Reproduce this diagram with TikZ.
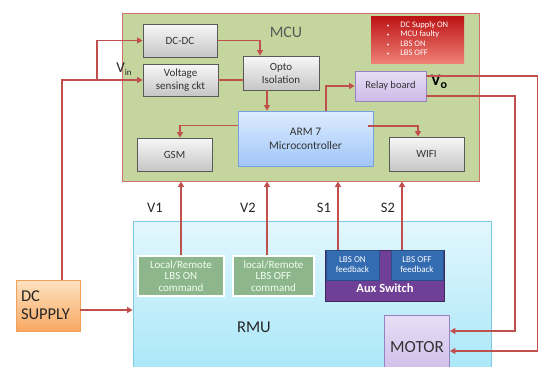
\documentclass[tikz,border=0pt]{standalone}
\usepackage{fontspec}
\setmainfont{Carlito}
\usetikzlibrary{arrows.meta,shadows}

\definecolor{linered}{RGB}{192,80,77}
\definecolor{mcugreen}{RGB}{196,214,158}
\definecolor{mcuborder}{RGB}{205,115,105}
\definecolor{cmdgreen}{RGB}{141,182,140}
\definecolor{fbblue}{RGB}{52,108,178}
\definecolor{auxpurple}{RGB}{112,64,150}

\begin{document}
\begin{tikzpicture}[x=1pt,y=-1pt,
  box/.style={draw, line width=0.8pt, inner sep=2pt, align=center,
    font=\fontsize{11}{13}\selectfont, text=black!80},
  graybox/.style={box, draw=black!65, top color=gray!6, bottom color=gray!45,
    drop shadow={opacity=0.25, shadow xshift=1.2pt, shadow yshift=-1.2pt}},
  bluebox/.style={box, draw={rgb,255:red,120;green,160;blue,220}, top color={rgb,255:red,222;green,236;blue,255},
    bottom color={rgb,255:red,160;green,198;blue,248}},
  lilacbox/.style={box, draw={rgb,255:red,150;green,130;blue,190},
    top color={rgb,255:red,232;green,222;blue,246}, bottom color={rgb,255:red,204;green,186;blue,232}},
  cmdbox/.style={box, draw=white, line width=1.5pt, fill=cmdgreen, text=white!94!green,
    font=\fontsize{11}{11.7}\selectfont},
  fbbox/.style={box, draw={rgb,255:red,40;green,78;blue,140}, fill=fbblue, text=white,
    font=\fontsize{9}{10}\selectfont},
  txt/.style={text=black!85, inner sep=0pt},
  siglabel/.style={txt, font=\fontsize{14.5}{17}\selectfont},
  conn/.style={draw=linered, line width=1.4pt},
  arr/.style={conn, -{Triangle[length=5.5pt,width=6pt]}}]

\useasboundingbox (0,0) rectangle (539,367);

% ---- MCU container ----
\node[draw=mcuborder, line width=0.8pt, fill=mcugreen, minimum width=357pt,
  minimum height=168pt] (mcu) at (300.5,97) {};
\node[txt, font=\fontsize{16}{19}\selectfont, text=black!65] (mcut) at (286,32) {MCU};

% status legend
\node[draw=none, top color={rgb,255:red,188;green,18;blue,20},
  bottom color={rgb,255:red,238;green,128;blue,118},
  minimum width=93pt, minimum height=47pt, text=white, align=left,
  font=\fontsize{8.5}{9.3}\selectfont] (legend) at (417.5,39.5)
  {\begin{tabular}{@{}l@{\hspace{11pt}}l@{}}
   \scalebox{0.6}{\textbullet} & DC Supply ON\\
   \scalebox{0.6}{\textbullet} & MCU faulty\\
   \scalebox{0.6}{\textbullet} & LBS ON\\
   \scalebox{0.6}{\textbullet} & LBS OFF
   \end{tabular}};

% MCU blocks
\node[graybox, minimum width=74pt, minimum height=33pt] (dcdc) at (180,40.5) {DC-DC};
\node[graybox, minimum width=75pt, minimum height=32pt] (vsense) at (180.5,80) {Voltage\\sensing ckt};
\node[graybox, minimum width=76pt, minimum height=34pt] (opto) at (281,73) {Opto\\Isolation};
\node[lilacbox, minimum width=71pt, minimum height=30pt, font=\fontsize{10.5}{12}\selectfont] (relay) at (390.5,86) {Relay board};
\node[bluebox, minimum width=135pt, minimum height=55pt, font=\fontsize{11.5}{14}\selectfont] (arm) at (305.5,138.5) {ARM 7\\Microcontroller};
\node[graybox, minimum width=75pt, minimum height=33pt] (gsm) at (174.5,154.5) {GSM};
\node[graybox, minimum width=75pt, minimum height=34pt] (wifi) at (426.5,154) {WIFI};

\node[txt, font=\fontsize{15}{18}\selectfont] (vinl) at (124,69) {V\raisebox{-3.5pt}{\fontsize{9}{9}\selectfont in}};
\node[txt, font=\fontsize{16}{18}\selectfont\bfseries, text=black] (vol) at (439,82)
  {V\raisebox{-3pt}{\fontsize{12}{12}\selectfont\bfseries o}};

% ---- RMU container ----
\node[draw={rgb,255:red,128;green,200;blue,228}, line width=0.8pt,
  top color={rgb,255:red,226;green,247;blue,253}, bottom color={rgb,255:red,166;green,230;blue,248},
  minimum width=358pt, minimum height=160pt] (rmu) at (312,301) {};
\node[txt, font=\fontsize{16.5}{19}\selectfont] (rmut) at (254,327) {RMU};

\node[cmdbox, minimum width=86pt, minimum height=40pt] (cmdon) at (181,276)
  {Local/Remote\\LBS ON\\command};
\node[cmdbox, minimum width=81pt, minimum height=40pt] (cmdoff) at (273.5,276)
  {local/Remote\\LBS OFF\\command};

\node[draw={rgb,255:red,62;green,40;blue,92}, line width=0.8pt, fill=auxpurple,
  minimum width=119pt, minimum height=51pt] (aux) at (384.5,275.5) {};
\node[txt, text=white, font=\fontsize{12.5}{14}\selectfont\bfseries] (auxt) at (385,288) {Aux Switch};
\node[fbbox, minimum width=53pt, minimum height=30pt] (fbon) at (352.5,265) {LBS ON\\feedback};
\node[fbbox, minimum width=52pt, minimum height=30pt] (fboff) at (417,265) {LBS OFF\\feedback};

\node[lilacbox, minimum width=65pt, minimum height=64pt, font=\fontsize{17}{20}\selectfont] (motor) at (417,347) {MOTOR};

% DC supply
\node[draw={rgb,255:red,240;green,160;blue,90}, line width=0.8pt,
  top color={rgb,255:red,253;green,226;blue,192}, bottom color={rgb,255:red,248;green,168;blue,98},
  minimum width=64pt, minimum height=51pt, align=left, text width=54pt,
  font=\fontsize{16.5}{18}\selectfont, text=black!85,
  drop shadow={opacity=0.2, shadow xshift=1.2pt, shadow yshift=-1.2pt}] (dcsup) at (48,305.5)
  {DC\\SUPPLY};

% signal labels
\node[siglabel] (v1) at (155,208) {V1};
\node[siglabel] (v2) at (248,208) {V2};
\node[siglabel] (s1) at (324,208) {S1};
\node[siglabel] (s2) at (388,208) {S2};

% ---- connectors ----
\coordinate (vinj) at (97,80);
\draw[arr] ([xshift=14pt]dcsup.north) |- (vsense.west);
\draw[arr] (vinj) |- (dcdc.west);
\draw[arr] (dcdc.east) -| ([xshift=-21pt]opto.north);
\draw[conn] (vsense.east) -- (vsense.east -| opto.west);
\draw[arr] ([xshift=-14pt]opto.south) -- ([xshift=-14pt]opto.south |- arm.north);
\draw[arr] ([xshift=20.5pt]arm.north) |- (relay.west);
\draw[arr] ([yshift=13pt]arm.west) -| ([xshift=5.5pt]gsm.north);
\draw[arr] ([xshift=-5pt,yshift=12.5pt]arm.east) -| ([xshift=-8.5pt]wifi.north);

\draw[arr] (cmdon.north) -- (cmdon.north |- mcu.south);
\draw[arr] ([xshift=-6.5pt]cmdoff.north) -- ([xshift=-6.5pt]cmdoff.north |- mcu.south);
\draw[arr] ([xshift=-14.5pt]fbon.north) -- ([xshift=-14.5pt]fbon.north |- mcu.south);
\draw[arr] ([xshift=-15pt]fboff.north) -- ([xshift=-15pt]fboff.north |- mcu.south);

\draw[arr] ([yshift=-4.5pt]dcsup.east) -- ([yshift=-4.5pt]dcsup.east -| rmu.west);

\coordinate (rtout) at (537.5,76);
\coordinate (rtin) at (515,96);
\draw[arr] ([yshift=10pt]relay.east) -- (rtout) |- ([yshift=-4pt]motor.east);
\draw[arr] ([yshift=-10pt]relay.east) -- (rtin) |- ([yshift=16pt]motor.east);
\end{tikzpicture}
\end{document}
